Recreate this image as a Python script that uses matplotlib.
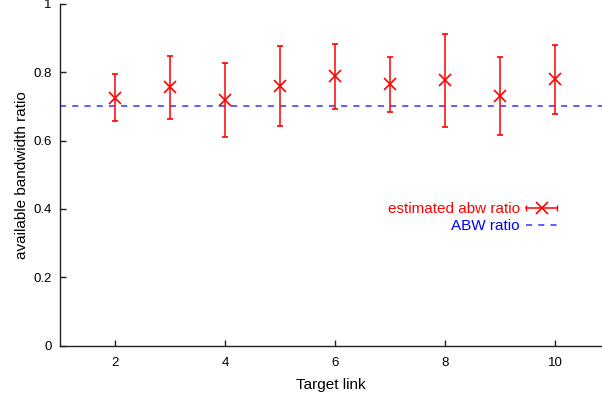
import matplotlib
matplotlib.use("Agg")
import matplotlib.pyplot as plt
from matplotlib.lines import Line2D
from matplotlib.legend_handler import HandlerBase
import numpy as np

plt.rcParams['font.family'] = ['Liberation Sans', 'DejaVu Sans']

target_link = [2, 3, 4, 5, 6, 7, 8, 9, 10]
est_ratio = [0.724, 0.756, 0.719, 0.761, 0.788, 0.765, 0.777, 0.731, 0.779]
est_low = [0.658, 0.663, 0.610, 0.643, 0.692, 0.683, 0.639, 0.616, 0.679]
est_high = [0.794, 0.848, 0.826, 0.878, 0.884, 0.846, 0.913, 0.846, 0.881]
abw_ratio = 0.7
y_ticks = [0, 0.2, 0.4, 0.6, 0.8, 1]
x_ticks = [2, 4, 6, 8, 10]

RED = '#ff0000'
BLUE = '#3333ff'


class HandlerHorizErr(HandlerBase):
    def create_artists(self, legend, orig_handle, xdescent, ydescent,
                       width, height, fontsize, trans):
        y = height / 2 - ydescent
        x0, x1 = -xdescent, -xdescent + width
        line = Line2D([x0, x1], [y, y], color=RED, lw=1.1, transform=trans)
        caps = Line2D([x0, x1], [y, y], ls='none', marker='|', ms=4,
                      mew=1.0, color=RED, transform=trans)
        mk = Line2D([(x0 + x1) / 2], [y], ls='none', marker='x', ms=9,
                    mew=1.2, color=RED, transform=trans)
        return [line, caps, mk]


fig = plt.figure(figsize=(6.02, 3.96), dpi=100)
W, H = 602, 396
ax = fig.add_axes([60 / W, (H - 345.5) / H, (W - 60) / W, 341.5 / H])

est = np.array(est_ratio)
yerr = [est - np.array(est_low), np.array(est_high) - est]
eb = ax.errorbar(target_link, est_ratio, yerr=yerr, fmt='x', color=RED,
                 ms=9, mew=1.2, elinewidth=1.1, capsize=2, capthick=1.0,
                 zorder=3)
ln = ax.axhline(abw_ratio, color=BLUE, ls=(0, (4, 4)), lw=1.1, zorder=2)

ax.set_xlim(1, 1 + (W - 60) / 55.0)
ax.set_ylim(0, 1)
ax.set_xticks(x_ticks)
ax.set_yticks(y_ticks)
ax.set_yticklabels([f'{v:g}' for v in y_ticks])
ax.tick_params(direction='in', length=4, width=1, labelsize=9.5, color='#222222')
ax.tick_params(axis='x', pad=8)
ax.tick_params(axis='y', pad=6)
for s in ['top', 'right']:
    ax.spines[s].set_visible(False)
for s in ['left', 'bottom']:
    ax.spines[s].set_linewidth(1.0)
    ax.spines[s].set_color('#222222')

ax.set_xlabel('Target link', fontsize=11, labelpad=7)
ax.set_ylabel('available bandwidth ratio', fontsize=11, labelpad=3)

proxy = Line2D([], [], color=RED)
ln_proxy = Line2D([], [], color=BLUE, ls=(0, (4, 4)), lw=1.1)
leg = fig.legend(handles=[proxy, ln_proxy], labels=['estimated abw ratio', 'ABW ratio'],
                 handler_map={proxy: HandlerHorizErr()},
                 loc='center right', bbox_to_anchor=(557 / W, 1 - 217.5 / H),
                 frameon=False, markerfirst=False,
                 fontsize=11, handlelength=2.0, handletextpad=0.45, labelspacing=0.2,
                 borderaxespad=0, borderpad=0)
for t, c in zip(leg.get_texts(), [RED, '#0000ff']):
    t.set_color(c)

fig.savefig('out.png', dpi=100)
